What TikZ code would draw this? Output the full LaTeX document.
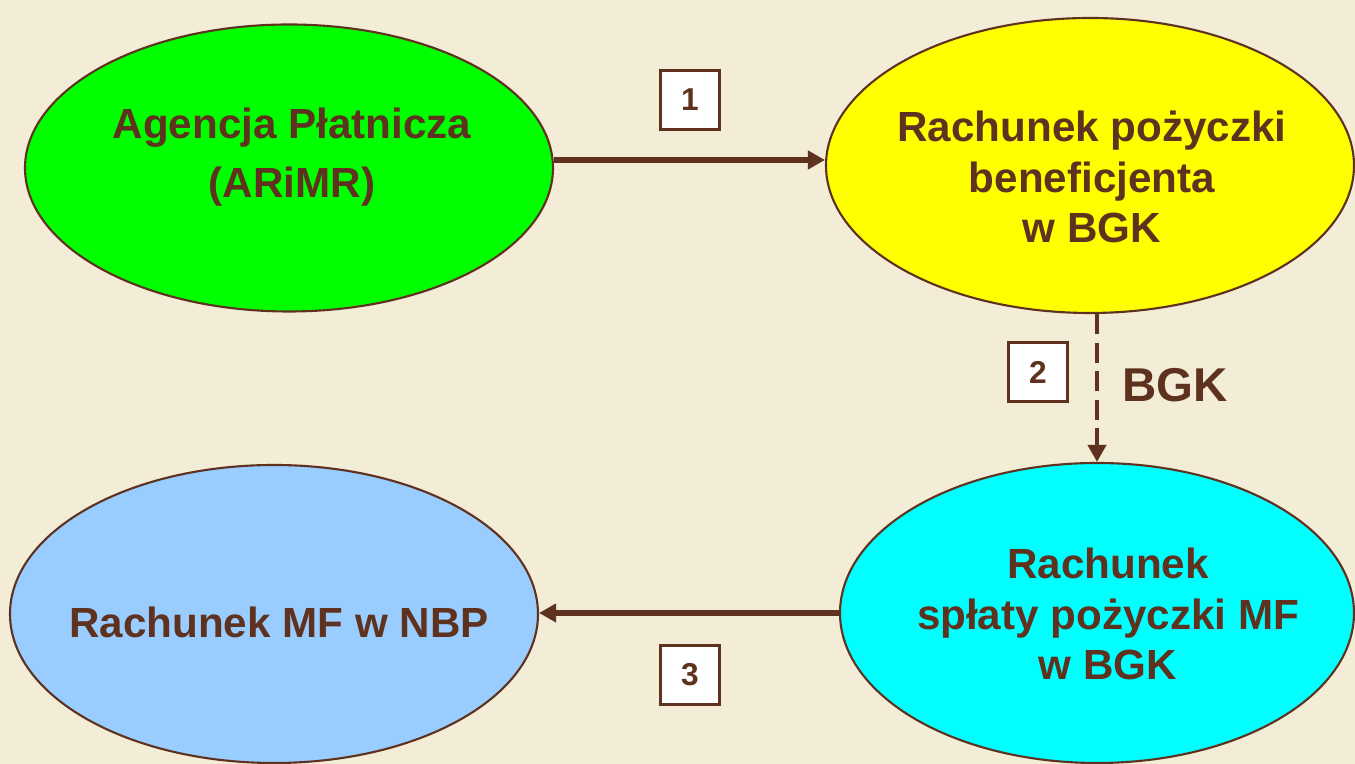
\documentclass[tikz,border=0pt]{standalone}
\usepackage{fontspec}
\setmainfont{Liberation Sans}
\usetikzlibrary{arrows.meta,shapes.geometric}
\definecolor{brn}{RGB}{94,50,30}
\definecolor{bg}{RGB}{243,236,214}
\definecolor{lime}{RGB}{0,255,0}
\definecolor{lemon}{RGB}{255,255,0}
\definecolor{aqua}{RGB}{0,255,255}
\definecolor{skyblue}{RGB}{153,204,255}

\begin{document}
\begin{tikzpicture}[
  >={Triangle[length=0.34cm,width=0.36cm]},
  account/.style={ellipse,draw=brn,line width=1.2pt,inner sep=0pt},
  caption/.style={text=brn,align=center,inner sep=0pt,
    font=\fontsize{24}{28.5}\selectfont\bfseries},
  numbox/.style={draw=brn,line width=1.2pt,fill=white,text=brn,
    minimum size=1.18cm,inner sep=0pt,font=\fontsize{18}{20}\selectfont\bfseries},
  flow/.style={->,draw=brn,line width=3pt}
  ]
\useasboundingbox (0,0) rectangle (27.1,15.28);
\fill [bg] (0,0) rectangle (27.1,15.28);
% the four accounts
\node [account,fill=lime,minimum width=10.56cm,minimum height=5.74cm]
  (agency) at (5.78,11.92) {};
\node [account,fill=lemon,minimum width=10.56cm,minimum height=5.9cm]
  (loan) at (21.8,11.97) {};
\node [account,fill=aqua,minimum width=10.28cm,minimum height=6cm]
  (repay) at (21.94,3.02) {};
\node [account,fill=skyblue,minimum width=10.56cm,minimum height=5.96cm]
  (nbp) at (5.48,3.0) {};
\node [caption] (agency-t) at (5.84,12.14) {Agencja Płatnicza\\[5pt](ARiMR)};
\node [caption] (loan-t) at (21.84,11.74) {Rachunek pożyczki\\beneficjenta\\w BGK};
\node [caption] (repay-t) at (22.16,3.0) {Rachunek\\spłaty pożyczki MF\\w BGK};
\node [caption] (nbp-t) at (5.58,2.84) {Rachunek MF w NBP};
% transfers
\draw [flow] (agency.east) ++(0,0.16) coordinate (a1) -- (a1 -| loan.west);
\draw [flow,line width=2.3pt,dash pattern=on 0.4cm off 0.17cm]
  (loan.south -| repay.north) -- (repay.north);
\draw [flow] (repay.west) -- (repay.west -| nbp.east);
\node [numbox] (n1) at (13.8,13.28) {1};
\node [numbox] (n2) at (20.76,7.84) {2};
\node [numbox] (n3) at (13.8,1.78) {3};
\node [text=brn,font=\fontsize{27}{30}\selectfont\bfseries] (bgk) at (23.5,7.58) {BGK};
\end{tikzpicture}
\end{document}
